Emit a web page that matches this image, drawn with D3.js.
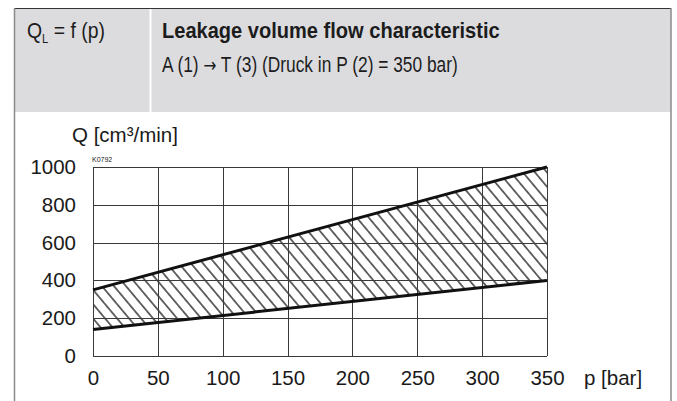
<!DOCTYPE html>
<html>
<head>
<meta charset="utf-8">
<script src="https://cdn.jsdelivr.net/npm/d3@7"></script>
<style>
  body { margin: 0; background: #fff; }
  svg { display: block; }
  .hdr { font-family: "Liberation Sans", Arial, sans-serif; fill: #1c1c1c; }
  .ax { font-family: "Liberation Sans", Arial, sans-serif; fill: #1a1a1a; }
</style>
</head>
<body>
<div id="chart"></div>
<script>
// pressure p [bar] and leakage Q [cm3/min]
let pressure = [0, 350];
let upperQ = [350, 1000];
let lowerQ = [140, 400];
let xTicks = [0, 50, 100, 150, 200, 250, 300, 350];
let yTicks = [0, 200, 400, 600, 800, 1000];

let W = 677, H = 401;
let plot = { left: 93, right: 547, top: 167, bottom: 356 };

let svg = d3.select("#chart").append("svg")
    .attr("width", W)
    .attr("height", H);

// header block
svg.append("rect")
    .attr("x", 14).attr("y", 9)
    .attr("width", 657).attr("height", 103)
    .attr("fill", "#dcdcdf");
svg.append("line")
    .attr("x1", 150.5).attr("x2", 150.5).attr("y1", 9).attr("y2", 112)
    .attr("stroke", "#fff").attr("stroke-width", 2);
svg.append("line")
    .attr("x1", 14).attr("x2", 671).attr("y1", 8.5).attr("y2", 8.5)
    .attr("stroke", "#333").attr("stroke-width", 1);
// side frame
svg.append("line")
    .attr("x1", 14.5).attr("x2", 14.5).attr("y1", 8).attr("y2", H)
    .attr("stroke", "#8a8a8a").attr("stroke-width", 1.5);
svg.append("line")
    .attr("x1", 671).attr("x2", 671).attr("y1", 8).attr("y2", H)
    .attr("stroke", "#8a8a8a").attr("stroke-width", 1.5);

// header texts, squeezed horizontally to mimic a condensed face
function condensed(sel, x0, y0, targetW) {
    let w = sel.node().getComputedTextLength();
    sel.attr("transform", "translate(" + x0 + "," + y0 + ") scale(" + (targetW / w) + ",1)");
}
let ql = svg.append("text").attr("class", "hdr").attr("font-size", 22.5);
ql.append("tspan").text("Q");
ql.append("tspan").attr("font-size", 13).attr("dy", 5).text("L");
ql.append("tspan").attr("dy", -5).text(" = f (p)");
condensed(ql, 27, 37.5, 78);

let t1 = svg.append("text").attr("class", "hdr").attr("font-size", 22.5)
    .attr("font-weight", "bold")
    .text("Leakage volume flow characteristic");
condensed(t1, 162, 37.5, 338);
let t2 = svg.append("text").attr("class", "hdr").attr("font-size", 22.5);
t2.append("tspan").text("A (1) ");
t2.append("tspan").attr("font-family", "DejaVu Sans").attr("font-size", 20).text("\u2192");
t2.append("tspan").text(" T (3) (Druck in P (2) = 350 bar)");
condensed(t2, 162, 71.5, 296);

// scales
let x = d3.scaleLinear().domain([0, 350]).range([plot.left, plot.right]);
let y = d3.scaleLinear().domain([0, 1000]).range([plot.bottom, plot.top]);

// hatch pattern
let defs = svg.append("defs");
let pat = defs.append("pattern")
    .attr("id", "hatch")
    .attr("patternUnits", "userSpaceOnUse")
    .attr("width", 9.2).attr("height", 20)
    .attr("patternTransform", "rotate(-40)");
pat.append("line")
    .attr("x1", 4.6).attr("y1", 0).attr("x2", 4.6).attr("y2", 20)
    .attr("stroke", "#1a1a1a").attr("stroke-width", 1.3);

let band = pressure.map((p, i) => ({ p: p, lo: lowerQ[i], hi: upperQ[i] }));

svg.append("path")
    .datum(band)
    .attr("fill", "url(#hatch)")
    .attr("d", d3.area().x(d => x(d.p)).y0(d => y(d.lo)).y1(d => y(d.hi)));

// grid
let grid = svg.append("g").attr("stroke", "#3a3a3a").attr("stroke-width", 1);
grid.selectAll(".gx").data(xTicks).enter().append("line")
    .attr("x1", d => Math.round(x(d)) + 0.5).attr("x2", d => Math.round(x(d)) + 0.5)
    .attr("y1", plot.top).attr("y2", plot.bottom);
grid.selectAll(".gy").data(yTicks).enter().append("line")
    .attr("x1", plot.left).attr("x2", plot.right)
    .attr("y1", d => Math.round(y(d)) + 0.5).attr("y2", d => Math.round(y(d)) + 0.5);

// boundary lines
let ln = d3.line().x(d => x(d[0])).y(d => y(d[1]));
[upperQ, lowerQ].forEach(s => {
    svg.append("path")
        .datum(pressure.map((p, i) => [p, s[i]]))
        .attr("fill", "none")
        .attr("stroke", "#111")
        .attr("stroke-width", 3)
        .attr("d", ln);
});

// axes (labels only)
let xAxis = svg.append("g")
    .attr("transform", "translate(0," + plot.bottom + ")")
    .call(d3.axisBottom(x).tickValues(xTicks).tickFormat(d3.format("d")).tickSize(0));
let yAxis = svg.append("g")
    .attr("transform", "translate(" + plot.left + ",0)")
    .call(d3.axisLeft(y).tickValues(yTicks).tickFormat(d3.format("d")).tickSize(0).tickPadding(17));
[xAxis, yAxis].forEach(a => {
    a.select(".domain").remove();
    a.selectAll("text").attr("class", "ax").attr("font-size", 20.5);
});
xAxis.selectAll("text").attr("dy", 0).attr("y", 29);

svg.append("text").attr("class", "ax")
    .attr("x", 584).attr("y", plot.bottom + 29).attr("font-size", 20.5)
    .text("p [bar]");
svg.append("text").attr("class", "ax")
    .attr("x", 72).attr("y", 142).attr("font-size", 20.5)
    .text("Q [cm\u00b3/min]");
svg.append("text").attr("class", "ax")
    .attr("x", 92).attr("y", 162).attr("font-size", 7).attr("fill", "#555")
    .text("K0792");
</script>
</body>
</html>
